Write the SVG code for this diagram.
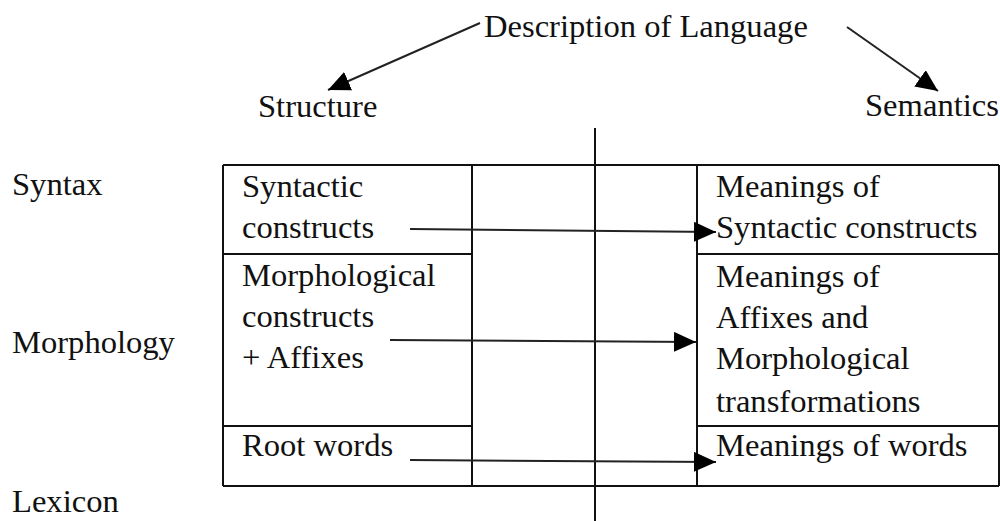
<svg xmlns="http://www.w3.org/2000/svg" width="1000" height="521" viewBox="0 0 1000 521">
  <style>
    text { font-family: 'Liberation Serif', 'DejaVu Serif', serif; font-size: 32.6px; fill: #111; }
    .rule { stroke: #111; stroke-width: 2; fill: none; }
    .link { stroke: #222; stroke-width: 2; fill: none; marker-end: url(#head); }
  </style>
  <defs>
    <marker id="head" markerUnits="userSpaceOnUse" markerWidth="22" markerHeight="20" refX="22" refY="10" orient="auto">
      <path d="M0,0 L22,10 L0,20 Z" fill="#000"/>
    </marker>
  </defs>
  <rect width="1000" height="521" fill="#fff"/>

  <!-- title and the two branches -->
  <g id="title"><text x="484" y="37">Description of Language</text></g>
  <g id="structure"><text x="258" y="117">Structure</text></g>
  <g id="semantics"><text x="865" y="116">Semantics</text></g>

  <!-- level labels -->
  <g id="syntax"><text x="12" y="195">Syntax</text></g>
  <g id="morphology"><text x="12" y="353">Morphology</text></g>
  <g id="lexicon"><text x="12" y="512">Lexicon</text></g>

  <!-- table frame -->
  <g id="table">
    <line class="rule" x1="223" y1="165" x2="999" y2="165"/>
    <line class="rule" x1="223" y1="486" x2="999" y2="486"/>
    <line class="rule" x1="223" y1="165" x2="223" y2="486"/>
    <line class="rule" x1="472" y1="165" x2="472" y2="486"/>
    <line class="rule" x1="697" y1="165" x2="697" y2="486"/>
    <line class="rule" x1="999" y1="165" x2="999" y2="486"/>
    <line class="rule" x1="223" y1="254" x2="472" y2="254"/>
    <line class="rule" x1="223" y1="426" x2="472" y2="426"/>
    <line class="rule" x1="697" y1="254" x2="999" y2="254"/>
    <line class="rule" x1="697" y1="426" x2="999" y2="426"/>
    <line class="rule" x1="595" y1="128" x2="595" y2="521"/>
  </g>

  <!-- structure cells -->
  <g id="syntactic-constructs">
    <text x="242" y="197">Syntactic</text>
    <text x="242" y="238">constructs</text>
  </g>
  <g id="morphological-constructs">
    <text x="242" y="286">Morphological</text>
    <text x="242" y="327">constructs</text>
    <text x="242" y="368">+ Affixes</text>
  </g>
  <g id="root-words"><text x="242" y="456">Root words</text></g>

  <!-- semantics cells -->
  <g id="meanings-syntactic">
    <text x="716" y="197">Meanings of</text>
    <text x="716" y="238">Syntactic constructs</text>
  </g>
  <g id="meanings-morphological">
    <text x="716" y="287">Meanings of</text>
    <text x="716" y="328">Affixes and</text>
    <text x="716" y="369">Morphological</text>
    <text x="716" y="412">transformations</text>
  </g>
  <g id="meanings-words"><text x="716" y="456">Meanings of words</text></g>

  <!-- connectors -->
  <g id="connectors">
    <line class="link" x1="480" y1="23" x2="328" y2="90"/>
    <line class="link" x1="847" y1="27" x2="938" y2="91"/>
    <line class="link" x1="410" y1="229" x2="716" y2="232"/>
    <line class="link" x1="390" y1="340" x2="696" y2="342"/>
    <line class="link" x1="410" y1="460" x2="716" y2="462"/>
  </g>
</svg>
